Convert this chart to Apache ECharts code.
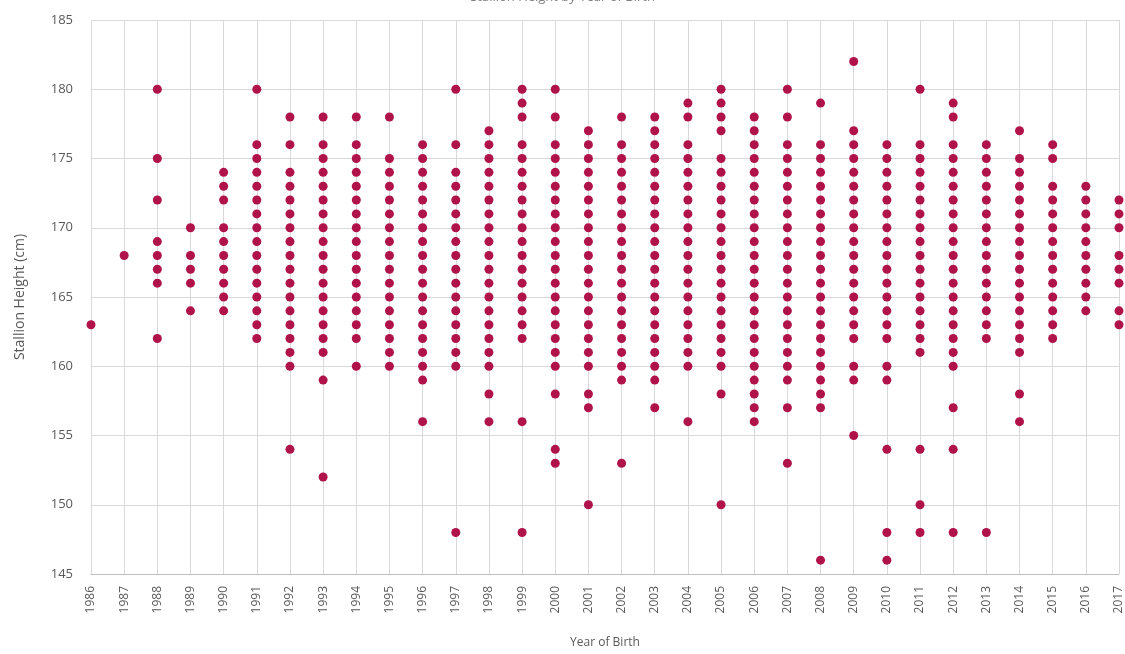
<!DOCTYPE html>
<html>
<head>
<meta charset="utf-8">
<script src="https://cdn.jsdelivr.net/npm/echarts@6/dist/echarts.min.js"></script>
<style>html,body{margin:0;padding:0;background:#fff;}#c{width:1125px;height:654px;}</style>
</head>
<body>
<div id="c"></div>
<script>
const titleText = 'Stallion Height by Year of Birth';
const xName = 'Year of Birth';
const yName = 'Stallion Height (cm)';
const years = ['1986','1987','1988','1989','1990','1991','1992','1993','1994','1995','1996','1997','1998','1999','2000','2001','2002','2003','2004','2005','2006','2007','2008','2009','2010','2011','2012','2013','2014','2015','2016','2017'];
const yTicks = [145,150,155,160,165,170,175,180,185];

const h1986 = [163];
const h1987 = [168];
const h1988 = [180,175,172,169,168,167,166,162];
const h1989 = [170,168,167,166,164];
const h1990 = [174,173,172,170,169,168,167,166,165,164];
const h1991 = [180,176,175,174,173,172,171,170,169,168,167,166,165,164,163,162];
const h1992 = [178,176,174,173,172,171,170,169,168,167,166,165,164,163,162,161,160,154];
const h1993 = [178,176,175,174,173,172,171,170,169,168,167,166,165,164,163,162,161,159,152];
const h1994 = [178,176,175,174,173,172,171,170,169,168,167,166,165,164,163,162,160];
const h1995 = [178,175,174,173,172,171,170,169,168,167,166,165,164,163,162,161,160];
const h1996 = [176,175,174,173,172,171,170,169,168,167,166,165,164,163,162,161,160,159,156];
const h1997 = [180,176,174,173,172,171,170,169,168,167,166,165,164,163,162,161,160,148];
const h1998 = [177,176,175,174,173,172,171,170,169,168,167,166,165,164,163,162,161,160,158,156];
const h1999 = [180,179,178,176,175,174,173,172,171,170,169,168,167,166,165,164,163,162,156,148];
const h2000 = [180,178,176,175,174,173,172,171,170,169,168,167,166,165,164,163,162,161,160,158,154,153];
const h2001 = [177,176,175,174,173,172,171,170,169,168,167,166,165,164,163,162,161,160,158,157,150];
const h2002 = [178,176,175,174,173,172,171,170,169,168,167,166,165,164,163,162,161,160,159,153];
const h2003 = [178,177,176,175,174,173,172,171,170,169,168,167,166,165,164,163,162,161,160,159,157];
const h2004 = [179,178,176,175,174,173,172,171,170,169,168,167,166,165,164,163,162,161,160,156];
const h2005 = [180,179,178,177,175,174,173,172,171,170,169,168,167,166,165,164,163,162,161,160,158,150];
const h2006 = [178,177,176,175,174,173,172,171,170,169,168,167,166,165,164,163,162,161,160,159,158,157,156];
const h2007 = [180,178,176,175,174,173,172,171,170,169,168,167,166,165,164,163,162,161,160,159,157,153];
const h2008 = [179,176,175,174,173,172,171,170,169,168,167,166,165,164,163,162,161,160,159,158,157,146];
const h2009 = [182,177,176,175,174,173,172,171,170,169,168,167,166,165,164,163,162,160,159,155];
const h2010 = [176,175,174,173,172,171,170,169,168,167,166,165,164,163,162,160,159,154,148,146];
const h2011 = [180,176,175,174,173,172,171,170,169,168,167,166,165,164,163,162,161,154,150,148];
const h2012 = [179,178,176,175,174,173,172,171,170,169,168,167,166,165,164,163,162,161,160,157,154,148];
const h2013 = [176,175,174,173,172,171,170,169,168,167,166,165,164,163,162,148];
const h2014 = [177,175,174,173,172,171,170,169,168,167,166,165,164,163,162,161,158,156];
const h2015 = [176,175,173,172,171,170,169,168,167,166,165,164,163,162];
const h2016 = [173,172,171,170,169,168,167,166,165,164];
const h2017 = [172,171,170,168,167,166,164,163];

const heights = [h1986,h1987,h1988,h1989,h1990,h1991,h1992,h1993,h1994,h1995,h1996,h1997,h1998,h1999,h2000,h2001,h2002,h2003,h2004,h2005,h2006,h2007,h2008,h2009,h2010,h2011,h2012,h2013,h2014,h2015,h2016,h2017];

const points = [];
years.forEach((y, i) => heights[i].forEach(v => points.push([y, v])));

const font = '"Open Sans", sans-serif';
const chart = echarts.init(document.getElementById('c'), null, {renderer: 'canvas'});
chart.setOption({
  animation: false,
  backgroundColor: '#ffffff',
  title: {
    text: titleText, left: 'center', top: -14,
    textStyle: {fontFamily: font, fontSize: 13, fontWeight: 'normal', color: '#7f7f7f'}
  },
  grid: {left: 91, right: 6, top: 20, bottom: 78, containLabel: false},
  xAxis: {
    type: 'category', data: years, boundaryGap: false,
    name: xName, nameLocation: 'middle', nameGap: 63,
    nameTextStyle: {fontFamily: font, fontSize: 12, color: '#595959'},
    axisLine: {lineStyle: {color: '#bfbfbf'}},
    axisTick: {show: false},
    axisLabel: {rotate: 90, interval: 0, fontFamily: font, fontSize: 12, color: '#595959', margin: 12},
    splitLine: {show: true, interval: 0, lineStyle: {color: '#d9d9d9', width: 1}}
  },
  yAxis: {
    type: 'value', min: 145, max: 185, interval: 5,
    name: yName, nameLocation: 'middle', nameGap: 64, nameRotate: 90,
    nameTextStyle: {fontFamily: font, fontSize: 14, color: '#595959'},
    axisLine: {show: false},
    axisTick: {show: false},
    axisLabel: {fontFamily: font, fontSize: 13, color: '#595959', margin: 18},
    splitLine: {show: true, lineStyle: {color: '#d9d9d9', width: 1}}
  },
  series: [{
    type: 'scatter', data: points, symbol: 'circle', symbolSize: 9,
    itemStyle: {color: '#B0124A', opacity: 1}
  }]
});
</script>
</body>
</html>
